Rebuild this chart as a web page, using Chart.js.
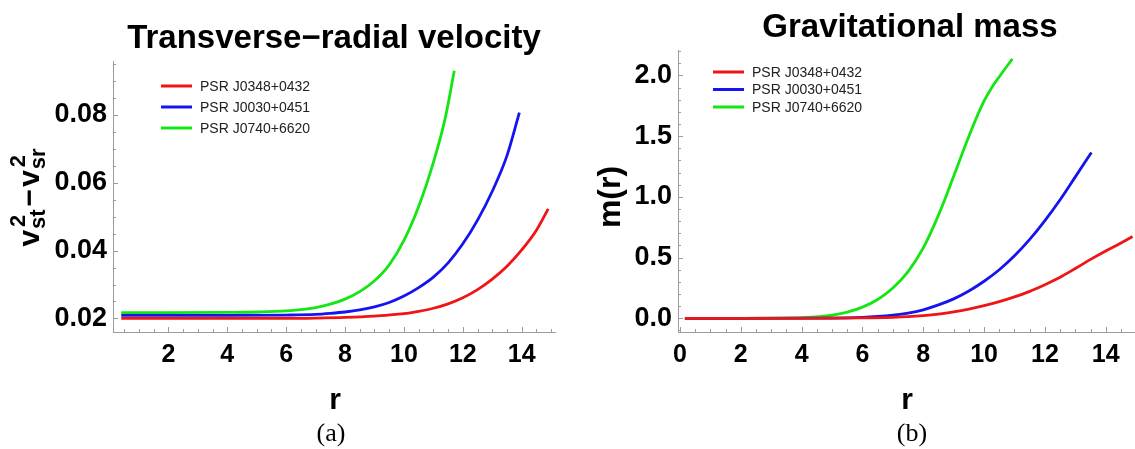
<!DOCTYPE html>
<html>
<head>
<meta charset="utf-8">
<script src="https://cdn.jsdelivr.net/npm/chart.js@4.4.1/dist/chart.umd.min.js"></script>
<style>
  body { margin: 0; background: #fff; }
  #wrap { position: relative; width: 1135px; height: 449px; }
  canvas { position: absolute; top: 0; }
  #velocity { left: 0; }
  #mass { left: 570px; }
</style>
</head>
<body>
<div id="wrap">
  <canvas id="velocity" width="570" height="449"></canvas>
  <canvas id="mass" width="565" height="449"></canvas>
</div>
<script>
const pulsars = ["PSR J0348+0432", "PSR J0030+0451", "PSR J0740+6620"];
const colors = ["#f01414", "#1414f0", "#14e614"];

// v_st^2 - v_sr^2 against r
const velR_0348 = [0.4, 2, 4, 6, 7, 8, 9, 10, 10.5, 11, 11.5, 12, 12.5, 13, 13.5, 14, 14.5, 14.9];
const vel_0348  = [0.0200, 0.0200, 0.0200, 0.0200, 0.0201, 0.0203, 0.0207, 0.0214, 0.0221, 0.0230, 0.0243, 0.0261, 0.0285, 0.0316, 0.0354, 0.0402, 0.0460, 0.0523];
const velR_0030 = [0.4, 2, 4, 6, 7, 7.5, 8, 8.5, 9, 9.5, 10, 10.5, 11, 11.5, 12, 12.5, 13, 13.5, 13.92];
const vel_0030  = [0.0209, 0.0209, 0.0209, 0.0210, 0.0212, 0.0215, 0.0219, 0.0225, 0.0234, 0.0247, 0.0266, 0.0291, 0.0322, 0.0364, 0.0420, 0.0490, 0.0575, 0.0680, 0.0807];
const velR_0740 = [0.4, 2, 4, 5, 6, 6.5, 7, 7.5, 8, 8.5, 9, 9.5, 10, 10.5, 11, 11.4, 11.71];
const vel_0740  = [0.0217, 0.0217, 0.0218, 0.0219, 0.0222, 0.0226, 0.0232, 0.0242, 0.0257, 0.0279, 0.0311, 0.0358, 0.0430, 0.0530, 0.0660, 0.0790, 0.0930];

// m(r) against r
const massR_0348 = [0.16, 2, 4, 6, 7, 7.5, 8, 8.5, 9, 9.5, 10, 10.5, 11, 11.5, 12, 12.5, 13, 13.5, 14, 14.5, 14.88];
const mass_0348  = [0, 0, 0, 0.003, 0.008, 0.013, 0.022, 0.035, 0.053, 0.076, 0.104, 0.137, 0.176, 0.222, 0.277, 0.338, 0.41, 0.485, 0.555, 0.62, 0.673];
const massR_0030 = [0.16, 2, 4, 5, 6, 6.5, 7, 7.5, 8, 8.5, 9, 9.5, 10, 10.5, 11, 11.5, 12, 12.5, 13, 13.53];
const mass_0030  = [0, 0, 0.001, 0.002, 0.008, 0.015, 0.026, 0.043, 0.07, 0.11, 0.16, 0.225, 0.305, 0.4, 0.515, 0.65, 0.805, 0.977, 1.165, 1.366];
const massR_0740 = [0.16, 2, 3, 4, 4.6, 5, 5.5, 6, 6.5, 7, 7.5, 8, 8.5, 9, 9.5, 10, 10.25, 10.5, 10.93];
const mass_0740  = [0, 0, 0.001, 0.005, 0.013, 0.025, 0.05, 0.092, 0.155, 0.25, 0.385, 0.58, 0.85, 1.17, 1.5, 1.79, 1.9, 1.99, 2.137];

const velTicks = [0.02, 0.04, 0.06, 0.08];
const massTicks = [0.0, 0.5, 1.0, 1.5, 2.0];

const SANS = '"Liberation Sans", Arial, sans-serif';
const AXIS_GREY = "#9c9c9c";

const pts = (rs, vs) => rs.map((r, i) => ({ x: r, y: vs[i] }));

function makeDatasets(series) {
  return series.map((s, i) => ({
    label: pulsars[i],
    data: pts(s[0], s[1]),
    borderColor: colors[i],
    borderWidth: 2.8,
    pointRadius: 0,
    fill: false,
    cubicInterpolationMode: "monotone"
  }));
}

// rotated y title with sub/superscripts: v_st^2 - v_sr^2
function drawVelocityLabel(ctx, bx, cy) {
  const big = "bold 30px " + SANS;
  const small = "bold 22px " + SANS;
  const parts = [
    { text: "v" }, { sub: "st", sup: "2" },
    { text: "\u2212", gap: 2 }, { text: "v" }, { sub: "sr", sup: "2" }
  ];
  let total = 0;
  parts.forEach(p => {
    if (p.text) {
      ctx.font = big;
      p.w = ctx.measureText(p.text).width + (p.gap || 0) * 2;
    } else {
      ctx.font = small;
      p.w = Math.max(ctx.measureText(p.sub).width, ctx.measureText(p.sup).width + 3) + 2;
    }
    total += p.w;
  });
  ctx.save();
  ctx.translate(bx, cy);
  ctx.rotate(-Math.PI / 2);
  ctx.textBaseline = "alphabetic";
  ctx.textAlign = "left";
  let x = -total / 2;
  parts.forEach(p => {
    if (p.text) {
      ctx.font = big;
      ctx.fillText(p.text, x + (p.gap || 0), 0);
    } else {
      ctx.font = small;
      ctx.fillText(p.sub, x + 1, 6);
      ctx.fillText(p.sup, x + 3, -14);
    }
    x += p.w;
  });
  ctx.restore();
}

const panelText = {
  id: "panelText",
  afterDraw(chart, args, o) {
    const ctx = chart.ctx;
    const xs = chart.scales.x, ys = chart.scales.y;
    const area = chart.chartArea;

    // inward tick marks, major and minor
    ctx.save();
    ctx.strokeStyle = AXIS_GREY;
    ctx.lineWidth = 1;
    ctx.beginPath();
    const xr = Math.round(o.xMajor / o.xMinor);
    for (let k = Math.ceil(xs.min / o.xMinor); k * o.xMinor <= xs.max; k++) {
      const px = Math.round(xs.getPixelForValue(k * o.xMinor)) + 0.5;
      const len = k % xr === 0 ? 5 : 3;
      ctx.moveTo(px, area.bottom);
      ctx.lineTo(px, area.bottom - len);
    }
    const yr = Math.round(o.yMajor / o.yMinor);
    for (let k = Math.ceil(ys.min / o.yMinor - 1e-9); k * o.yMinor <= ys.max + 1e-9; k++) {
      const py = Math.round(ys.getPixelForValue(k * o.yMinor)) + 0.5;
      const len = k % yr === 0 ? 5 : 3;
      ctx.moveTo(area.left, py);
      ctx.lineTo(area.left + len, py);
    }
    ctx.stroke();
    ctx.restore();

    ctx.save();
    ctx.fillStyle = "#000";
    // panel title
    ctx.font = "bold 33px " + SANS;
    ctx.textAlign = "center";
    ctx.textBaseline = "alphabetic";
    ctx.fillText(o.title, o.titleX, o.titleY);
    // x axis title
    ctx.font = "bold 30px " + SANS;
    ctx.fillText("r", o.rX, 409);
    // caption
    ctx.font = '26px "Liberation Serif", "Times New Roman", serif';
    ctx.fillText(o.caption, o.capX, 441);
    ctx.restore();

    // y axis title
    if (o.yTitle) {
      ctx.save();
      ctx.fillStyle = "#000";
      ctx.font = "bold 32px " + SANS;
      ctx.translate(o.yTitleX, o.yTitleY);
      ctx.rotate(-Math.PI / 2);
      ctx.textAlign = "center";
      ctx.textBaseline = "alphabetic";
      ctx.fillText(o.yTitle, 0, 0);
      ctx.restore();
    } else {
      ctx.fillStyle = "#000";
      drawVelocityLabel(ctx, o.yTitleX, o.yTitleY);
    }

    // legend
    ctx.save();
    ctx.font = "14px " + SANS;
    ctx.textBaseline = "middle";
    ctx.textAlign = "left";
    chart.data.datasets.forEach((ds, i) => {
      const y = o.legY + i * o.legDy;
      ctx.strokeStyle = ds.borderColor;
      ctx.lineWidth = 3;
      ctx.beginPath();
      ctx.moveTo(o.legX, y);
      ctx.lineTo(o.legX + 31, y);
      ctx.stroke();
      ctx.fillStyle = "#222";
      ctx.fillText(ds.label, o.legX + 39, y + 1);
    });
    ctx.restore();
  }
};

function axisOptions(xMin, xMax, yMin, yMax, yStep, yDigits, yWidth) {
  return {
    x: {
      type: "linear", min: xMin, max: xMax,
      grid: { display: false, drawTicks: false },
      border: { display: true, color: AXIS_GREY, width: 1 },
      ticks: {
        stepSize: 2, includeBounds: false, maxRotation: 0, autoSkip: false,
        color: "#000", padding: 8,
        font: { family: SANS, size: 25, weight: "bold" },
        callback: v => String(Math.round(v))
      },
      afterFit: s => { s.height = 117; }
    },
    y: {
      type: "linear", min: yMin, max: yMax,
      grid: { display: false, drawTicks: false },
      border: { display: true, color: AXIS_GREY, width: 1 },
      ticks: {
        stepSize: yStep, includeBounds: false, autoSkip: false,
        color: "#000", padding: 6,
        font: { family: SANS, size: 27, weight: "bold" },
        callback: v => v.toFixed(yDigits)
      },
      afterFit: s => { s.width = yWidth; }
    }
  };
}

Chart.defaults.animation = false;

new Chart(document.getElementById("velocity"), {
  type: "line",
  data: {
    datasets: makeDatasets([[velR_0348, vel_0348], [velR_0030, vel_0030], [velR_0740, vel_0740]])
  },
  options: {
    responsive: false,
    devicePixelRatio: 1,
    layout: { padding: { top: 61, right: 15, left: 0, bottom: 0 } },
    scales: axisOptions(0.12, 15.13, 0.0160, 0.0959, velTicks[1] - velTicks[0], 2, 113),
    plugins: {
      legend: { display: false },
      tooltip: { enabled: false },
      panelText: {
        title: "Transverse\u2212radial velocity", titleX: 334, titleY: 48,
        rX: 335, capX: 331, caption: "(a)",
        yTitleX: 39, yTitleY: 197,
        legX: 161, legY: 86, legDy: 21,
        xMinor: 0.5, xMajor: 2, yMinor: 0.005, yMajor: 0.02
      }
    }
  },
  plugins: [panelText]
});

new Chart(document.getElementById("mass"), {
  type: "line",
  data: {
    datasets: makeDatasets([[massR_0348, mass_0348], [massR_0030, mass_0030], [massR_0740, mass_0740]])
  },
  options: {
    responsive: false,
    devicePixelRatio: 1,
    layout: { padding: { top: 50, right: 1, left: 0, bottom: 0 } },
    scales: axisOptions(-0.066, 14.93, -0.113, 2.21, massTicks[1] - massTicks[0], 1, 108),
    plugins: {
      legend: { display: false },
      tooltip: { enabled: false },
      panelText: {
        title: "Gravitational mass", titleX: 340, titleY: 37,
        rX: 337, capX: 342, caption: "(b)",
        yTitle: "m(r)", yTitleX: 50, yTitleY: 197,
        legX: 143, legY: 72, legDy: 17.5,
        xMinor: 0.5, xMajor: 2, yMinor: 0.1, yMajor: 0.5
      }
    }
  },
  plugins: [panelText]
});
</script>
</body>
</html>
